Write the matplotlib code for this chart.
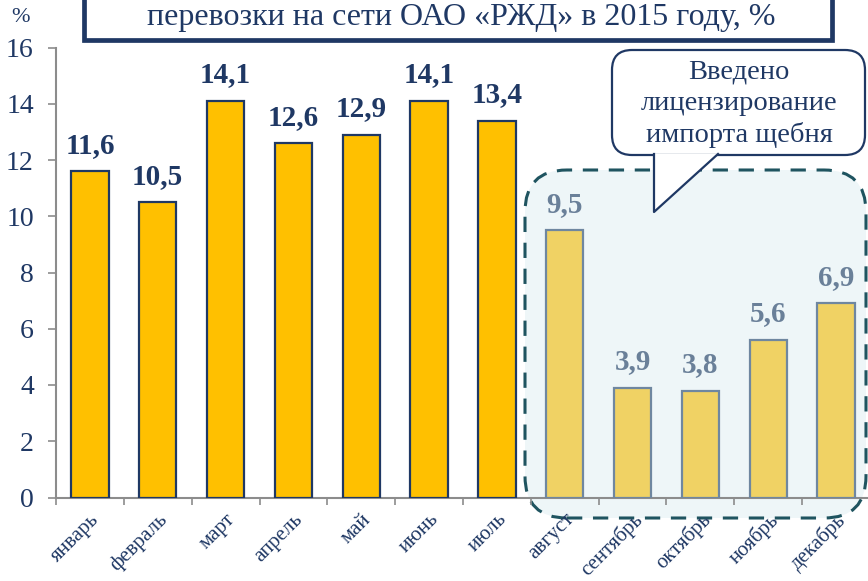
import matplotlib
matplotlib.use("Agg")
import matplotlib.pyplot as plt
from matplotlib.patches import FancyBboxPatch, Polygon
from matplotlib.lines import Line2D
import numpy as np

plt.rcParams['font.family'] = ['Liberation Serif', 'DejaVu Serif']

months = ['январь', 'февраль', 'март', 'апрель', 'май', 'июнь', 'июль',
          'август', 'сентябрь', 'октябрь', 'ноябрь', 'декабрь']
values = [11.6, 10.5, 14.1, 12.6, 12.9, 14.1, 13.4, 9.5, 3.9, 3.8, 5.6, 6.9]
n_before = 7  # months before licensing
yticks = [0, 2, 4, 6, 8, 10, 12, 14, 16]
title_text = 'перевозки на сети ОАО «РЖД» в 2015 году, %'
callout_text = 'Введено\nлицензирование\nимпорта щебня'

NAVY = '#1F3864'
GOLD = '#FFC000'
PALE_GOLD = '#F0D264'
PALE_EDGE = '#6F87A0'
PALE_TEXT = '#6A8099'
GRID_GREY = '#8C8C8C'

W, H = 868, 581
fig = plt.figure(figsize=(W / 100, H / 100), dpi=100)
fig.patch.set_facecolor('white')

def px(x, y):
    """pixel (from top-left) -> inches (from bottom-left)"""
    return x / 100, (H - y) / 100

ax_l, ax_r, ax_top, ax_bot = 56, 870, 47.5, 497.5
ax = fig.add_axes([ax_l / W, (H - ax_bot) / H, (ax_r - ax_l) / W, (ax_bot - ax_top) / H])
ax.set_facecolor('none')
ax.set_zorder(1)

x = np.arange(len(months))
colors = [GOLD if i < n_before else PALE_GOLD for i in range(len(months))]
edges = [NAVY if i < n_before else PALE_EDGE for i in range(len(months))]
ax.bar(x, values, width=0.55, color=colors, edgecolor=edges, linewidth=1.6, zorder=3)

for i, v in enumerate(values):
    ax.annotate(f'{v:.1f}'.replace('.', ','), (i, v), xytext=(0, 9), textcoords='offset points',
                ha='center', va='bottom', fontsize=21, fontweight='bold',
                color=NAVY if i < n_before else PALE_TEXT, zorder=4)

ax.set_xlim(-0.5, len(months) - 0.5)
ax.set_ylim(0, 16)
ax.set_yticks(yticks)
ax.set_yticklabels([str(t) for t in yticks], fontsize=20, color=NAVY)
ax.tick_params(axis='y', length=6, width=1.2, color=GRID_GREY, pad=10)

ax.set_xticks(np.arange(-0.5, len(months), 1.0))
ax.set_xticklabels([])
ax.tick_params(axis='x', which='major', length=5, width=1.2, color=GRID_GREY)
ax.set_xticks(x, minor=True)
ax.set_xticklabels(months, minor=True, rotation=45, ha='right', va='top',
                   rotation_mode='anchor', fontsize=15, color=NAVY)
ax.tick_params(axis='x', which='minor', length=0, pad=9)

for s in ['top', 'right']:
    ax.spines[s].set_visible(False)
for s in ['left', 'bottom']:
    ax.spines[s].set_color(GRID_GREY)
    ax.spines[s].set_linewidth(1.5)

# '%' label
fig.text(21 / W, (H - 17) / H, '%', ha='center', va='center', fontsize=16, color=NAVY)

# dashed highlighted region
x0, y0 = px(525, 518)
x1, y1 = px(866, 170)
region = FancyBboxPatch((x0, y0), x1 - x0, y1 - y0,
                        boxstyle='round,pad=0,rounding_size=0.42',
                        transform=fig.dpi_scale_trans, facecolor='#EEF6F8',
                        edgecolor='#1F5460', linewidth=2.2, linestyle=(0, (5, 3.5)),
                        zorder=-1)
fig.patches.append(region)

# title box
tx0, ty0 = px(83.5, 39.5)
tx1, ty1 = px(831.5, -20)
tbox = FancyBboxPatch((tx0, ty0), tx1 - tx0, ty1 - ty0, boxstyle='square,pad=0',
                      transform=fig.dpi_scale_trans, facecolor='white',
                      edgecolor=NAVY, linewidth=3.4, zorder=5)
fig.patches.append(tbox)
fig.text(461 / W, (H - 18) / H, title_text, ha='center', va='center',
         fontsize=23, color=NAVY, zorder=6)

# callout
cx0, cy0 = px(612, 155)
cx1, cy1 = px(865, 50)
cbox = FancyBboxPatch((cx0, cy0), cx1 - cx0, cy1 - cy0,
                      boxstyle='round,pad=0,rounding_size=0.2',
                      transform=fig.dpi_scale_trans, facecolor='white',
                      edgecolor=NAVY, linewidth=1.6, zorder=5)
fig.patches.append(cbox)
tail = [px(654, 154), px(654, 212), px(718, 154)]
fig.patches.append(Polygon(tail, closed=True, transform=fig.dpi_scale_trans,
                           facecolor='white', edgecolor='none', zorder=6))
tx, ty = zip(*tail)
fig.lines.append(Line2D(tx, ty, transform=fig.dpi_scale_trans, color=NAVY,
                        linewidth=1.6, zorder=7))
fig.text(739 / W, (H - 104) / H, callout_text, ha='center', va='center',
         fontsize=20.5, color=NAVY, linespacing=1.32, zorder=8)

fig.savefig('out.png', dpi=100)
